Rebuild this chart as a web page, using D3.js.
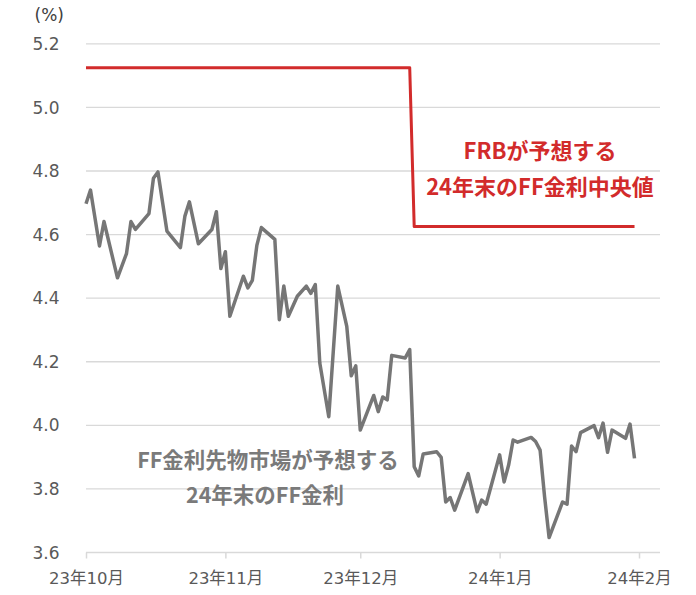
<!DOCTYPE html>
<html>
<head>
<meta charset="utf-8">
<script src="https://cdn.jsdelivr.net/npm/d3@7.9.0/dist/d3.min.js"></script>
<style>
  body { margin: 0; background: #fff; }
  svg { display: block; }
</style>
</head>
<body>
<div id="chart"></div>
<script>
const ffDates = [
  '2023-10-02', '2023-10-03', '2023-10-05', '2023-10-06', '2023-10-09', '2023-10-11', '2023-10-12',
  '2023-10-13', '2023-10-16', '2023-10-17', '2023-10-18', '2023-10-20', '2023-10-23', '2023-10-24',
  '2023-10-25', '2023-10-27', '2023-10-30', '2023-10-31', '2023-11-01', '2023-11-02', '2023-11-03',
  '2023-11-06', '2023-11-07', '2023-11-08', '2023-11-09', '2023-11-10', '2023-11-13', '2023-11-14',
  '2023-11-15', '2023-11-16', '2023-11-18', '2023-11-20', '2023-11-21', '2023-11-22', '2023-11-23',
  '2023-11-25', '2023-11-27', '2023-11-29', '2023-11-30', '2023-12-01', '2023-12-02', '2023-12-05',
  '2023-12-06', '2023-12-07', '2023-12-08', '2023-12-09', '2023-12-12', '2023-12-13', '2023-12-14',
  '2023-12-15', '2023-12-16', '2023-12-19', '2023-12-20', '2023-12-21', '2023-12-22', '2023-12-23',
  '2023-12-26', '2023-12-28', '2023-12-29', '2023-12-30', '2024-01-02', '2024-01-03', '2024-01-04',
  '2024-01-05', '2024-01-06', '2024-01-09', '2024-01-10', '2024-01-11', '2024-01-12', '2024-01-13',
  '2024-01-16', '2024-01-17', '2024-01-18', '2024-01-19', '2024-01-20', '2024-01-23', '2024-01-24',
  '2024-01-25', '2024-01-26', '2024-01-27', '2024-01-30', '2024-01-31', '2024-02-01'
];
const ffValues = [
  4.697, 4.740, 4.564, 4.641, 4.464, 4.540, 4.641,
  4.616, 4.666, 4.777, 4.797, 4.611, 4.559, 4.658,
  4.703, 4.571, 4.616, 4.672, 4.493, 4.546, 4.343,
  4.469, 4.432, 4.456, 4.566, 4.622, 4.585, 4.332,
  4.438, 4.343, 4.406, 4.438, 4.415, 4.443, 4.196,
  4.027, 4.438, 4.311, 4.156, 4.187, 3.985, 4.094,
  4.043, 4.089, 4.080, 4.220, 4.212, 4.238, 3.870,
  3.841, 3.910, 3.917, 3.899, 3.759, 3.773, 3.733,
  3.848, 3.728, 3.765, 3.752, 3.907, 3.822, 3.875,
  3.954, 3.947, 3.962, 3.949, 3.922, 3.775, 3.647,
  3.759, 3.752, 3.935, 3.917, 3.977, 3.999, 3.961,
  4.007, 3.915, 3.985, 3.959, 4.004, 3.896
];

const frbDates = ['2023-10-02', '2023-12-13', '2023-12-14', '2024-02-01'];
const frbValues = [5.125, 5.125, 4.625, 4.625];

const yTicks = [3.6, 3.8, 4.0, 4.2, 4.4, 4.6, 4.8, 5.0, 5.2];
const xTickDates = ['2023-10-02', '2023-11-02', '2023-12-02', '2024-01-02', '2024-02-02'];
const xTickLabels = ['23年10月', '23年11月', '23年12月', '24年1月', '24年2月'];

const width = 696;
const height = 595;
const parse = d3.utcParse('%Y-%m-%d');
const font = '"DejaVu Sans", "Noto Sans CJK JP", sans-serif';
const jpFont = '"Noto Sans CJK JP", sans-serif';

const x = d3.scaleUtc()
  .domain([parse('2023-10-02'), parse('2024-02-06')])
  .range([86, 657]);

const y = d3.scaleLinear()
  .domain([3.6, 5.2])
  .range([552.5, 43.8]);

const svg = d3.select('#chart').append('svg')
  .attr('width', width)
  .attr('height', height);

// gridlines
svg.append('g')
  .selectAll('line')
  .data(yTicks.slice(1))
  .join('line')
  .attr('x1', x.range()[0])
  .attr('x2', x.range()[1] + 3)
  .attr('y1', d => y(d))
  .attr('y2', d => y(d))
  .attr('stroke', '#d9d9d9')
  .attr('stroke-width', 1.3);

// y labels
svg.append('g')
  .selectAll('text')
  .data(yTicks)
  .join('text')
  .attr('x', 59.5)
  .attr('y', d => y(d))
  .attr('dy', '0.36em')
  .attr('text-anchor', 'end')
  .attr('font-family', font)
  .attr('font-size', 17)
  .attr('fill', '#595959')
  .text(d => d.toFixed(1));

svg.append('text')
  .attr('x', 64)
  .attr('y', 21)
  .attr('text-anchor', 'end')
  .attr('font-family', font)
  .attr('font-size', 17)
  .attr('fill', '#404040')
  .text('(%)');

// x axis
const xAxis = d3.axisBottom(x)
  .tickValues(xTickDates.map(parse))
  .tickFormat((d, i) => xTickLabels[i])
  .tickSize(6)
  .tickSizeOuter(0)
  .tickPadding(14);

const gx = svg.append('g')
  .attr('transform', `translate(0,${y(3.6)})`)
  .call(xAxis);

gx.select('.domain')
  .attr('stroke', '#d9d9d9')
  .attr('stroke-width', 1.5)
  .attr('d', `M${x.range()[0]},0H${x.range()[1] + 3}`);
gx.selectAll('.tick line')
  .attr('stroke', '#d9d9d9')
  .attr('stroke-width', 1.5);
gx.selectAll('.tick text')
  .attr('font-family', font)
  .attr('font-size', 16.5)
  .attr('fill', '#595959');

// lines
const line = d3.line()
  .x(d => x(d[0]))
  .y(d => y(d[1]));

svg.append('path')
  .datum(ffDates.map((d, i) => [parse(d), ffValues[i]]))
  .attr('fill', 'none')
  .attr('stroke', '#767676')
  .attr('stroke-width', 3.5)
  .attr('stroke-linejoin', 'round')
  .attr('d', line);

svg.append('path')
  .datum(frbDates.map((d, i) => [parse(d), frbValues[i]]))
  .attr('fill', 'none')
  .attr('stroke', '#d22b2b')
  .attr('stroke-width', 3)
  .attr('stroke-linejoin', 'round')
  .attr('d', line);

// annotations
const redNote = svg.append('text')
  .attr('text-anchor', 'middle')
  .attr('font-family', jpFont)
  .attr('font-weight', 'bold')
  .attr('font-size', 22)
  .attr('fill', '#d22b2b');
redNote.append('tspan').attr('x', 540).attr('y', 159).text('FRBが予想する');
redNote.append('tspan').attr('x', 540).attr('y', 195).text('24年末のFF金利中央値');

const grayNote = svg.append('text')
  .attr('text-anchor', 'middle')
  .attr('font-family', jpFont)
  .attr('font-weight', 'bold')
  .attr('font-size', 21.5)
  .attr('fill', '#7a7a7a');
grayNote.append('tspan').attr('x', 268).attr('y', 468).text('FF金利先物市場が予想する');
grayNote.append('tspan').attr('x', 265).attr('y', 503).text('24年末のFF金利');
</script>
</body>
</html>
